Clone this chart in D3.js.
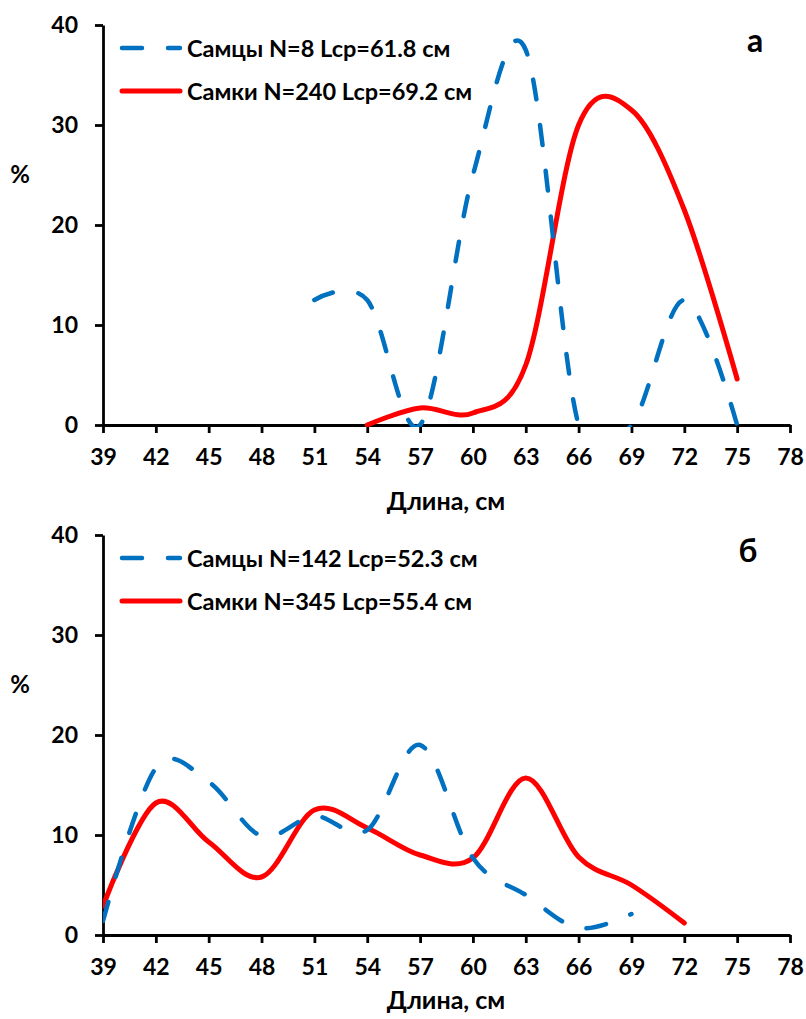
<!DOCTYPE html>
<html>
<head>
<meta charset="utf-8">
<script src="https://cdn.jsdelivr.net/npm/d3@7"></script>
<style>
	body { margin: 0; background: #fff; }
	text { font-family: Lato, "Noto Sans", sans-serif; font-weight: bold; fill: #000; }
</style>
</head>
<body>
<div id="chart"></div>
<script>
// x axis ticks (length, cm) and y ticks (%)
var lengthTicks = [39, 42, 45, 48, 51, 54, 57, 60, 63, 66, 69, 72, 75, 78];
var pctTicks = [0, 10, 20, 30, 40];

// panel а
var maleLenA = [51, 54, 57, 60, 63, 66, 69, 72, 75];
var malePctA = [12.5, 12.5, 0, 25, 37.5, 0, 0, 12.5, 0];
var femLenA = [54, 57, 60, 63, 66, 69, 72, 75];
var femPctA = [0, 1.7, 1.2, 6, 30, 31.5, 21.5, 4.6];

// panel б
var maleLenB = [39, 42, 45, 48, 51, 54, 57, 60, 63, 66, 69];
var malePctB = [1.4, 16.7, 15.3, 9.9, 11.9, 10.5, 19, 7.7, 4, 0.7, 2.1];
var femLenB = [39, 42, 45, 48, 51, 54, 57, 60, 63, 66, 69, 72];
var femPctB = [2.9, 13.2, 9.3, 5.8, 12.5, 10.7, 8, 7.7, 15.7, 7.8, 5, 1.2];

var legendA = ["Самцы N=8 Lcp=61.8 см", "Самки N=240 Lcp=69.2 см"];
var legendB = ["Самцы N=142 Lcp=52.3 см", "Самки N=345 Lcp=55.4 см"];

var width = 806, height = 1019;
var blue = "#0070C0", red = "#FF0000";

var svg = d3.select("#chart")
	.append("svg")
	.attr("width", width)
	.attr("height", height);

var x = d3.scaleLinear().domain([39, 78]).range([103, 790]);

function zip(xs, ys) {
	return xs.map(function(v, i) { return [v, ys[i]]; });
}

function drawPanel(id, top, bottom, males, females, legend, letter, letterX, titleGap) {
	var y = d3.scaleLinear().domain([0, 40]).range([bottom, top]);
	var g = svg.append("g").attr("class", "panel-" + id);

	g.append("clipPath").attr("id", "clip-" + id)
		.append("rect")
		.attr("x", x(39))
		.attr("y", top - 6)
		.attr("width", x(78) - x(39) + 4)
		.attr("height", bottom - top + 8);

	var line = d3.line()
		.x(function(d) { return x(d[0]); })
		.y(function(d) { return y(d[1]); })
		.curve(d3.curveCatmullRom.alpha(0));

	// axes
	var yAxis = g.append("g")
		.attr("transform", "translate(" + x(39) + ",0)")
		.call(d3.axisLeft(y).tickValues(pctTicks).tickSize(8).tickSizeOuter(0).tickPadding(17));
	var xAxis = g.append("g")
		.attr("transform", "translate(0," + bottom + ")")
		.call(d3.axisBottom(x).tickValues(lengthTicks).tickSize(8).tickSizeOuter(0).tickPadding(16));

	[xAxis, yAxis].forEach(function(a) {
		a.selectAll("path, line").attr("stroke", "#000").attr("stroke-width", 2.8);
		a.selectAll("text")
			.attr("font-family", null)
			.attr("font-size", null)
			.style("font-size", "23px");
	});

	var plot = g.append("g").attr("clip-path", "url(#clip-" + id + ")");

	plot.append("path")
		.datum(females)
		.attr("d", line)
		.attr("fill", "none")
		.attr("stroke", red)
		.attr("stroke-width", 5)
		.attr("stroke-linecap", "round")
		.attr("stroke-linejoin", "round");

	plot.append("path")
		.datum(males)
		.attr("d", line)
		.attr("fill", "none")
		.attr("stroke", blue)
		.attr("stroke-width", 4.5)
		.attr("stroke-linecap", "round")
		.attr("stroke-dasharray", "20,26");

	// axis titles
	g.append("text")
		.attr("x", 446)
		.attr("y", bottom + titleGap)
		.attr("text-anchor", "middle")
		.style("font-size", "25px")
		.text("Длина, см");

	g.append("text")
		.attr("x", 20)
		.attr("y", top + 158)
		.attr("text-anchor", "middle")
		.style("font-size", "24px")
		.text("%");

	// legend
	var leg = g.append("g").attr("class", "legend");
	[blue, red].forEach(function(c, i) {
		var ly = top + 23 + i * 43;
		leg.append("line")
			.attr("x1", 122).attr("x2", 180)
			.attr("y1", ly).attr("y2", ly)
			.attr("stroke", c)
			.attr("stroke-width", i === 0 ? 4.5 : 5)
			.attr("stroke-linecap", "round")
			.attr("stroke-dasharray", i === 0 ? "20,26" : null);
		leg.append("text")
			.attr("x", 187)
			.attr("y", ly + 9)
			.style("font-size", "23.5px")
			.text(legend[i]);
	});

	g.append("text")
		.attr("x", letterX)
		.attr("y", top + 27)
		.attr("text-anchor", "middle")
		.style("font-size", "32px")
		.text(letter);
}

drawPanel("a", 25, 425, zip(maleLenA, malePctA), zip(femLenA, femPctA), legendA, "а", 755, 85);
drawPanel("b", 535, 935, zip(maleLenB, malePctB), zip(femLenB, femPctB), legendB, "б", 748, 74);
</script>
</body>
</html>
